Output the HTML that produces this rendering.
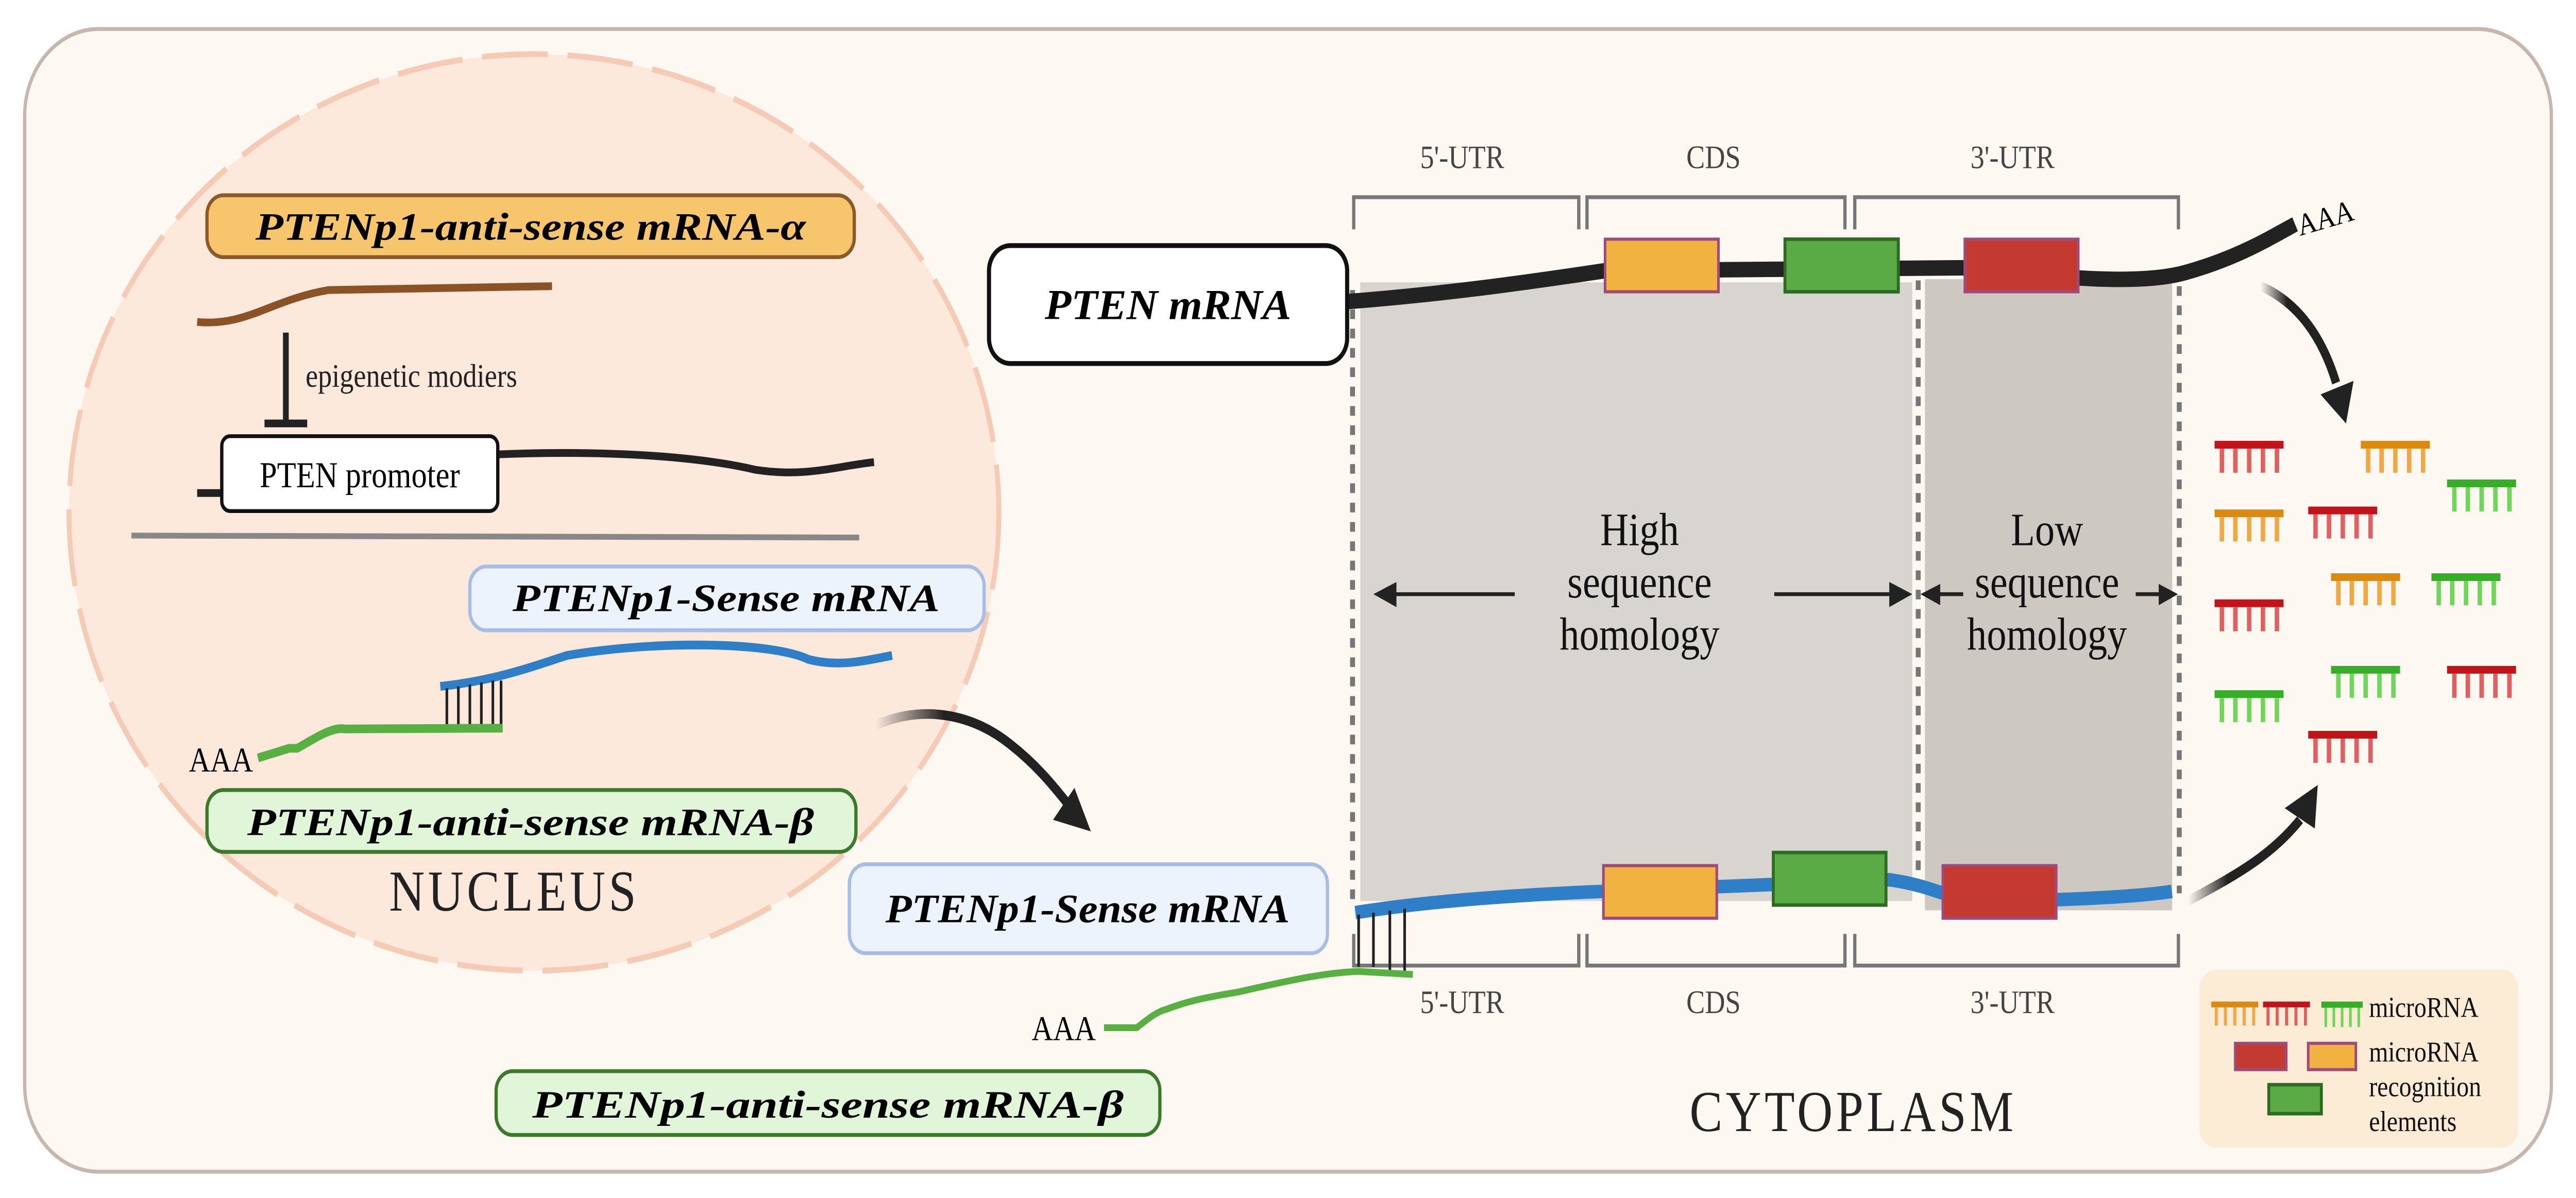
<!DOCTYPE html>
<html><head><meta charset="utf-8"><style>html,body{margin:0;padding:0;background:#fff;overflow:hidden;width:100%;height:100%}svg{display:block;position:fixed;left:0;top:0;width:100vw;height:100vh}</style></head>
<body>
<svg viewBox="0 0 1568 619.6" preserveAspectRatio="none" xmlns="http://www.w3.org/2000/svg">
<defs>
<linearGradient id="ga" x1="0" y1="0" x2="1" y2="0"><stop offset="0" stop-color="#222" stop-opacity="0"/><stop offset="0.35" stop-color="#222"/></linearGradient>
<g id="cr"><rect x="0" y="0" width="42" height="4" fill="#c0141a"/><g fill="#e06060"><rect x="3.1" y="4" width="2.7" height="12.5"/><rect x="11.3" y="4" width="2.7" height="12.5"/><rect x="19.7" y="4" width="2.7" height="12.5"/><rect x="28.1" y="4" width="2.7" height="12.5"/><rect x="36.6" y="4" width="2.7" height="12.5"/></g></g>
<g id="co"><rect x="0" y="0" width="42" height="4" fill="#d98a0f"/><g fill="#f0a845"><rect x="3.1" y="4" width="2.7" height="12.5"/><rect x="11.3" y="4" width="2.7" height="12.5"/><rect x="19.7" y="4" width="2.7" height="12.5"/><rect x="28.1" y="4" width="2.7" height="12.5"/><rect x="36.6" y="4" width="2.7" height="12.5"/></g></g>
<g id="cg"><rect x="0" y="0" width="42" height="4" fill="#36ae28"/><g fill="#6fd65a"><rect x="3.1" y="4" width="2.7" height="12.5"/><rect x="11.3" y="4" width="2.7" height="12.5"/><rect x="19.7" y="4" width="2.7" height="12.5"/><rect x="28.1" y="4" width="2.7" height="12.5"/><rect x="36.6" y="4" width="2.7" height="12.5"/></g></g>
</defs>
<rect x="0" y="0" width="1568" height="620" fill="#fff"/>
<rect x="15" y="15" width="1538" height="591" rx="45" fill="#fdf8f2" stroke="#c6b6ae" stroke-width="2"/>

<ellipse cx="325" cy="265" rx="283" ry="237" fill="#fde8dc" stroke="#f6cbb6" stroke-width="3" stroke-dasharray="40 12"/>
<rect x="126" y="101" width="394" height="32" rx="10" fill="#f7c56c" stroke="#8b5a2b" stroke-width="2"/>
<text x="323" y="124" text-anchor="middle" font-family="Liberation Serif, serif" font-style="italic" font-weight="bold" font-size="20" textLength="335" lengthAdjust="spacingAndGlyphs">PTENp1-anti-sense mRNA-α</text>
<path d="M120,166.5 C150,169 165,155 200,150 L336,148" fill="none" stroke="#8b5226" stroke-width="4"/>
<line x1="174" y1="172" x2="174" y2="219" stroke="#222" stroke-width="3.5"/>
<line x1="161" y1="219" x2="187" y2="219" stroke="#222" stroke-width="4"/>
<text x="186" y="200" font-family="Liberation Serif, serif" font-size="17" fill="#222">epigenetic modiers</text>
<path d="M120,255 L135,255" stroke="#222" stroke-width="4"/>
<path d="M303,235 C360,233 420,235 460,243 C490,247 510,241 532,239" fill="none" stroke="#222" stroke-width="4"/>
<rect x="135" y="225.6" width="168" height="38.7" rx="5" fill="#fff" stroke="#111" stroke-width="2"/>
<text x="219" y="252" text-anchor="middle" font-family="Liberation Serif, serif" font-size="19">PTEN promoter</text>
<line x1="80" y1="277" x2="523" y2="278" stroke="#888" stroke-width="3"/>
<rect x="286" y="293" width="313" height="33" rx="10" fill="#edf3fc" stroke="#a6bde6" stroke-width="2"/>
<text x="442" y="316" text-anchor="middle" font-family="Liberation Serif, serif" font-style="italic" font-weight="bold" font-size="20" textLength="260" lengthAdjust="spacingAndGlyphs">PTENp1-Sense mRNA</text>
<path d="M268,355 C300,352 320,346 345,339 C400,331 470,332 492,341 C510,345 525,342 543,339" fill="none" stroke="#2f7fc8" stroke-width="4.5"/>
<g stroke="#222" stroke-width="1.6"><line x1="272" y1="356" x2="272" y2="377"/><line x1="279" y1="355" x2="279" y2="377"/><line x1="286" y1="354" x2="286" y2="377"/><line x1="293" y1="353" x2="293" y2="377"/><line x1="300" y1="352" x2="300" y2="377"/><line x1="305" y1="352" x2="305" y2="377"/></g>
<path d="M157,392 L176,387 L181,387 C195,380 203,376 210,377 L306,376.6" fill="none" stroke="#58b043" stroke-width="4.5"/>
<text x="115" y="399" font-family="Liberation Serif, serif" font-size="18">AAA</text>
<rect x="126" y="408.6" width="395" height="32" rx="10" fill="#e1f5d9" stroke="#3a7a2a" stroke-width="2"/>
<text x="323" y="432" text-anchor="middle" font-family="Liberation Serif, serif" font-style="italic" font-weight="bold" font-size="20" textLength="345" lengthAdjust="spacingAndGlyphs">PTENp1-anti-sense mRNA-β</text>
<text x="313" y="471" text-anchor="middle" font-family="Liberation Serif, serif" font-size="30" letter-spacing="2" fill="#222">NUCLEUS</text>

<path d="M533,375 C560,365 590,368 615,385 C630,395 640,405 652,418" fill="none" stroke="url(#ga)" stroke-width="5"/>
<polygon points="641,424 654,407.5 664,430" fill="#222"/>

<rect x="828" y="146" width="336" height="320" fill="#d8d5d0"/>
<rect x="1171.7" y="144.4" width="150.5" height="326.4" fill="#cdc8c2"/>
<g stroke="#777" stroke-width="3" stroke-dasharray="5 5"><line x1="823.3" y1="150" x2="823.3" y2="468"/><line x1="1167.6" y1="145" x2="1167.6" y2="460"/><line x1="1326.5" y1="148" x2="1326.5" y2="462"/></g>
<g fill="none" stroke="#777" stroke-width="2"><path d="M824,118.6 V102 H961 V118.6"/><path d="M966,118.6 V102 H1123 V118.6"/><path d="M1129,118.6 V102 H1326 V118.6"/>
<path d="M824,483 V499.4 H961 V483"/><path d="M966,483 V499.4 H1123 V483"/><path d="M1129,483 V499.4 H1326 V483"/></g>
<g font-family="Liberation Serif, serif" font-size="17" fill="#444" text-anchor="middle"><text x="890" y="87">5'-UTR</text><text x="1043" y="87">CDS</text><text x="1225" y="87">3'-UTR</text>
<text x="890" y="524">5'-UTR</text><text x="1043" y="524">CDS</text><text x="1225" y="524">3'-UTR</text></g>

<path d="M820,156 C880,152 930,146 977,140 L1195,138.5 C1250,143 1300,148 1330,141 C1360,134 1380,124 1397,116" fill="none" stroke="#222" stroke-width="8"/>
<text x="1400" y="122" transform="rotate(-14 1400 122)" font-family="Liberation Serif, serif" font-size="16">AAA</text>
<rect x="977" y="123.7" width="69" height="27.2" fill="#f2b242" stroke="#a04a7a" stroke-width="1.6"/>
<rect x="1086.5" y="123.7" width="69" height="27.2" fill="#5aab45" stroke="#2e6a22" stroke-width="1.8"/>
<rect x="1196" y="123.7" width="69" height="27.2" fill="#c53a30" stroke="#a04a7a" stroke-width="1.6"/>
<rect x="602" y="127" width="218" height="61" rx="13" fill="#fff" stroke="#111" stroke-width="2.5"/>
<text x="711" y="165" text-anchor="middle" font-family="Liberation Serif, serif" font-style="italic" font-weight="bold" font-size="22" textLength="150" lengthAdjust="spacingAndGlyphs">PTEN mRNA</text>

<path d="M825,472 C870,466 920,463 976,461 L1150,455 C1175,458 1185,464 1200,466 C1250,466 1300,464 1322,461" fill="none" stroke="#2f7fc8" stroke-width="7"/>
<rect x="976" y="447.7" width="69" height="27.2" fill="#f2b242" stroke="#a04a7a" stroke-width="1.6"/>
<rect x="1079.4" y="440.9" width="68.6" height="27.2" fill="#5aab45" stroke="#2e6a22" stroke-width="1.8"/>
<rect x="1182.6" y="447.7" width="69" height="27.2" fill="#c53a30" stroke="#a04a7a" stroke-width="1.6"/>
<g stroke="#222" stroke-width="1.6"><line x1="827" y1="473" x2="827" y2="500"/><line x1="836" y1="472" x2="836" y2="500"/><line x1="846" y1="471" x2="846" y2="502"/><line x1="855" y1="470" x2="855" y2="502"/></g>
<path d="M672,531.5 L692,531.5 C700,526 705,523 710,522 C725,517 740,515 754,513 C780,508 805,503 827,502.4 L860,504" fill="none" stroke="#58b043" stroke-width="3.5"/>
<text x="628" y="538" font-family="Liberation Serif, serif" font-size="18">AAA</text>
<rect x="517" y="447" width="291" height="46" rx="10" fill="#edf3fc" stroke="#a6bde6" stroke-width="2"/>
<text x="662" y="477" text-anchor="middle" font-family="Liberation Serif, serif" font-style="italic" font-weight="bold" font-size="21" textLength="246" lengthAdjust="spacingAndGlyphs">PTENp1-Sense mRNA</text>
<rect x="302" y="554" width="404" height="33" rx="10" fill="#e1f5d9" stroke="#3a7a2a" stroke-width="2"/>
<text x="504" y="578" text-anchor="middle" font-family="Liberation Serif, serif" font-style="italic" font-weight="bold" font-size="20" textLength="360" lengthAdjust="spacingAndGlyphs">PTENp1-anti-sense mRNA-β</text>

<g font-family="Liberation Serif, serif" font-size="24" fill="#111" text-anchor="middle"><text x="998" y="282">High</text><text x="998" y="309">sequence</text><text x="998" y="336">homology</text>
<text x="1246" y="282">Low</text><text x="1246" y="309">sequence</text><text x="1246" y="336">homology</text></g>
<g stroke="#222" stroke-width="2"><line x1="922" y1="307.3" x2="845" y2="307.3"/><line x1="1080" y1="307.3" x2="1155" y2="307.3"/><line x1="1195" y1="307.3" x2="1178" y2="307.3"/><line x1="1300" y1="307.3" x2="1316" y2="307.3"/></g>
<g fill="#222"><polygon points="836,307.3 850,301 850,314"/><polygon points="1164,307.3 1150,301 1150,314"/><polygon points="1169,307.3 1181,302 1181,313"/><polygon points="1325.7,307.3 1314,302 1314,313"/></g>
<text x="1128" y="585" text-anchor="middle" font-family="Liberation Serif, serif" font-size="30" letter-spacing="2" fill="#222">CYTOPLASM</text>

<path d="M1376,148 C1395,155 1412,170 1422,198" fill="none" stroke="url(#ga)" stroke-width="5"/>
<polygon points="1412.5,204 1432.6,197 1428,219" fill="#222"/>
<path d="M1332,466 C1355,455 1380,445 1400,424" fill="none" stroke="url(#ga)" stroke-width="5"/>
<polygon points="1390.7,418 1409,428.5 1410.8,406" fill="#222"/>

<use href="#cr" x="1348" y="228"/><use href="#co" x="1437" y="228"/><use href="#cg" x="1489.5" y="248"/>
<use href="#co" x="1348" y="263.5"/><use href="#cr" x="1405" y="262"/><use href="#co" x="1418.9" y="296.5"/>
<use href="#cg" x="1480" y="296.5"/><use href="#cr" x="1348" y="310"/><use href="#cg" x="1348" y="357"/>
<use href="#cg" x="1418.9" y="344.4"/><use href="#cr" x="1489.5" y="344.4"/><use href="#cr" x="1405" y="378"/>

<rect x="1338.8" y="501.5" width="194" height="92" rx="10" fill="#fcebd5"/>
<g transform="translate(1346,518) scale(0.68 0.75)"><use href="#co" x="0" y="0"/></g>
<g transform="translate(1377.5,518) scale(0.68 0.75)"><use href="#cr" x="0" y="0"/></g>
<g transform="translate(1413,518) scale(0.6 0.8)"><use href="#cg" x="0" y="0"/></g>
<rect x="1360.6" y="539.6" width="31" height="13.6" fill="#c53a30" stroke="#a04a7a" stroke-width="1.6"/>
<rect x="1405" y="539.6" width="29" height="13.6" fill="#f2b242" stroke="#a04a7a" stroke-width="1.6"/>
<rect x="1381" y="561" width="32" height="15" fill="#5aab45" stroke="#2e6a22" stroke-width="1.8"/>
<g font-family="Liberation Serif, serif" font-size="15" fill="#111"><text x="1442" y="526">microRNA</text><text x="1442" y="549">microRNA</text><text x="1442" y="567">recognition</text><text x="1442" y="585">elements</text></g>
</svg>
</body></html>
